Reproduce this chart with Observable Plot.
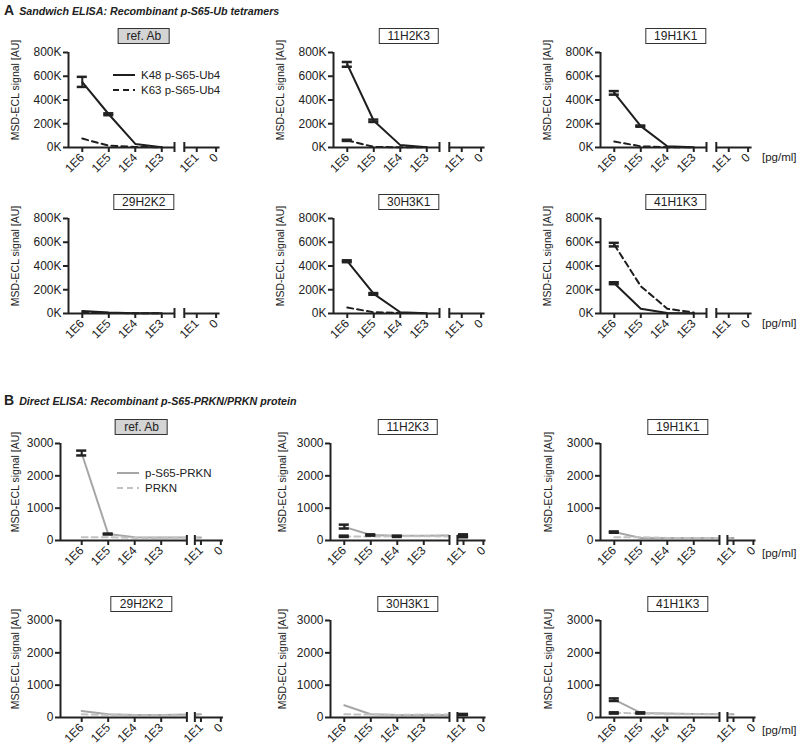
<!DOCTYPE html>
<html><head><meta charset="utf-8">
<script src="https://cdn.jsdelivr.net/npm/d3@7"></script>
<script src="https://cdn.jsdelivr.net/npm/@observablehq/plot@0.6"></script>
<style>
body{margin:0;background:#fff;font-family:"Liberation Sans",Arial,sans-serif;color:#222}
#root{position:relative;width:800px;height:755px;overflow:hidden;background:#fff}
.abs{position:absolute}
.sec{font-size:10.7px;font-weight:bold;font-style:italic;white-space:nowrap;line-height:14px}
.letter{font-size:14px;font-weight:bold;font-style:normal;margin-right:5px}
.box{border:1px solid #333;font-size:12px;padding:0 8px;line-height:14px;transform:translate(-50%,-50%);background:#fff;white-space:nowrap}
.box.ref{background:#d4d4d4}
.unit{font-size:11.5px;transform:translateY(-50%)}
.leg{font-size:11.5px;line-height:14px;white-space:nowrap;display:flex;align-items:center}
.leg svg{margin-right:5px}
svg{overflow:visible}
</style></head><body><div id="root"></div>
<script>
// ---------- data ----------
const concentrations = ["1E6","1E5","1E4","1E3","1E1","0"];
const antibodies = ["ref. Ab","11H2K3","19H1K1","29H2K2","30H3K1","41H1K3"];

// A: Sandwich ELISA (values at 1E6, 1E5, 1E4, 1E3)
const ubSeries = ["K48 p-S65-Ub4","K63 p-S65-Ub4"];
const k48 = [
  [550000,280000,30000,3000],
  [700000,225000,20000,2000],
  [460000,180000,10000,1000],
  [20000,8000,3000,2000],
  [440000,165000,10000,2000],
  [255000,40000,5000,2000]
];
const k63 = [
  [75000,15000,5000,2000],
  [60000,5000,2000,1000],
  [50000,10000,3000,1000],
  [10000,5000,2000,1000],
  [50000,10000,5000,2000],
  [580000,230000,40000,8000]
];
const ubErrors = [
  ["ref. Ab","K48 p-S65-Ub4","1E6",510000,595000],
  ["ref. Ab","K48 p-S65-Ub4","1E5",272000,288000],
  ["11H2K3","K48 p-S65-Ub4","1E6",680000,720000],
  ["11H2K3","K48 p-S65-Ub4","1E5",215000,235000],
  ["11H2K3","K63 p-S65-Ub4","1E6",55000,65000],
  ["19H1K1","K48 p-S65-Ub4","1E6",445000,475000],
  ["19H1K1","K48 p-S65-Ub4","1E5",175000,185000],
  ["30H3K1","K48 p-S65-Ub4","1E6",432000,448000],
  ["30H3K1","K48 p-S65-Ub4","1E5",158000,172000],
  ["41H1K3","K48 p-S65-Ub4","1E6",247000,263000],
  ["41H1K3","K63 p-S65-Ub4","1E6",565000,595000]
];
const ubTicks = [0,200000,400000,600000,800000];

// B: Direct ELISA (values at 1E6, 1E5, 1E4, 1E3, 1E1)
const prknSeries = ["p-S65-PRKN","PRKN"];
const pS65 = [
  [2700,200,100,90,90],
  [420,170,150,150,160],
  [260,80,80,80,80],
  [200,100,80,80,100],
  [380,100,80,80,80],
  [550,140,120,110,100]
];
const prkn = [
  [100,100,80,80,90],
  [120,120,130,130,120],
  [100,100,80,80,80],
  [100,80,70,70,60],
  [100,90,80,90,90],
  [140,130,100,100,100]
];
const prknErrors = [
  ["ref. Ab","p-S65-PRKN","1E6",2630,2780],
  ["ref. Ab","p-S65-PRKN","1E5",185,215],
  ["11H2K3","p-S65-PRKN","1E6",370,490],
  ["11H2K3","PRKN","1E6",110,150],
  ["11H2K3","p-S65-PRKN","1E5",150,190],
  ["11H2K3","PRKN","1E4",110,150],
  ["11H2K3","p-S65-PRKN","1E1",120,190],
  ["11H2K3","PRKN","1E1",100,140],
  ["19H1K1","p-S65-PRKN","1E6",240,280],
  ["30H3K1","p-S65-PRKN","1E1",70,110],
  ["41H1K3","p-S65-PRKN","1E6",510,590],
  ["41H1K3","PRKN","1E6",120,160],
  ["41H1K3","p-S65-PRKN","1E5",120,160]
];
const prknTicks = [0,1000,2000,3000];

// ---------- layout ----------
const root = document.getElementById("root");
const INK = "#222";
const layoutA = {pos:[0,1,2,3,4.32,5.05], breaks:[3.48,3.85], end:5.2};
const layoutB = {pos:[0,1,2,3,4.5,5.25], breaks:[3.97,4.27], end:5.35};
const colsA = [68,333,600], colsB = [60,330,600];
const labelXA = [15,280,547], labelXB = [15,282,548];
const startA = [-0.52,-0.52,-0.52], startB = [-0.8,-0.52,-0.52];
const rowsA = [52,218], rowsB = [443,620];
const MT = 30, MB = 48, ML = 65, MR = 10, UNIT = 26.5;

function add(html, cls, left, top){
  const d = document.createElement("div");
  d.className = "abs " + cls; d.innerHTML = html;
  d.style.left = left+"px"; d.style.top = top+"px";
  root.appendChild(d); return d;
}

function panel({ab, left, top, h, layout, x0, labelX, series, values, errors, yMax, yTicks, yFmt, styles, cover}){
  const pos = layout.pos;
  const domain = [x0, layout.end];
  const PW = (domain[1]-domain[0])*UNIT;
  const posOf = c => pos[concentrations.indexOf(c)];
  const pts = [];
  series.forEach((s,k) => values[k].forEach((v,j) => pts.push({s, x:pos[j], y:v})));
  const errs = errors.filter(e => e[0]===ab).map(e => ({x:posOf(e[2]), lo:e[3], hi:e[4]}));
  const bh = yMax*5/h; // break mark half height (5px)
  const cw = 0.19;
  const marks = [];
  series.forEach(s => {
    marks.push(Plot.line(pts.filter(p=>p.s===s), {x:"x", y:"y", stroke:styles[s].stroke,
      strokeWidth:2, strokeDasharray:styles[s].dash, strokeLinejoin:"round"}));
  });
  if (cover) marks.push(Plot.rect([layout.breaks], {x1:d=>d[0], x2:d=>d[1], y1:-bh*2, y2:yMax, fill:"white"}));
  marks.push(
    Plot.ruleX(errs, {x:"x", y1:"lo", y2:"hi", stroke:INK, strokeWidth:2}),
    Plot.ruleY(errs, {y:"lo", x1:d=>d.x-cw, x2:d=>d.x+cw, stroke:INK, strokeWidth:2.5}),
    Plot.ruleY(errs, {y:"hi", x1:d=>d.x-cw, x2:d=>d.x+cw, stroke:INK, strokeWidth:2.5}),
    Plot.ruleY([[domain[0],layout.breaks[0]],[layout.breaks[1],domain[1]]],
      {y:0, x1:d=>d[0], x2:d=>d[1], stroke:INK, strokeWidth:2}),
    Plot.ruleX(layout.breaks, {x:d=>d, y1:-bh, y2:bh, stroke:INK, strokeWidth:2}),
    Plot.ruleX([domain[0]], {x:d=>d, y1:0, y2:yMax, stroke:INK, strokeWidth:2}),
    Plot.axisY({ticks:yTicks, tickFormat:yFmt, tickSize:5, tickPadding:2, strokeWidth:2, stroke:INK, fill:INK, label:null, fontSize:12}),
    Plot.axisX({ticks:pos, tickFormat:d=>concentrations[pos.indexOf(d)], tickSize:5, tickPadding:3,
      tickRotate:-45, strokeWidth:2, stroke:INK, fill:INK, label:null, fontSize:12}),
    Plot.text(["MSD-ECL signal [AU]"], {frameAnchor:"left", textAnchor:"middle", rotate:-90,
      dx:-(left-labelX), dy:-10, fontSize:10.5, fill:INK})
  );
  const chart = Plot.plot({
    width: ML+PW+MR, height: MT+h+MB,
    marginLeft: ML, marginRight: MR, marginTop: MT, marginBottom: MB,
    x:{type:"linear", domain},
    y:{type:"linear", domain:[0,yMax]},
    style:{fontFamily:"'Liberation Sans', Arial, sans-serif", fontSize:"12px", color:INK, background:"transparent", overflow:"visible"},
    marks
  });
  chart.style.position = "absolute";
  chart.style.left = (left-ML)+"px";
  chart.style.top = (top-MT)+"px";
  root.appendChild(chart);
  return PW;
}

const stylesA = {"K48 p-S65-Ub4":{stroke:"#1e1e1e", dash:null}, "K63 p-S65-Ub4":{stroke:"#1e1e1e", dash:"6,4"}};
const stylesB = {"p-S65-PRKN":{stroke:"#a6a6a6", dash:null}, "PRKN":{stroke:"#c2c2c2", dash:"6,4"}};

const boxes = [];
antibodies.forEach((ab,i) => {
  const r = Math.floor(i/3), c = i%3;
  const wA = panel({ab, left:colsA[c], top:rowsA[r], h:95, layout:layoutA, x0:startA[c], labelX:labelXA[c],
    series:ubSeries, values:[k48[i],k63[i]], errors:ubErrors, yMax:800000, yTicks:ubTicks,
    yFmt:d=>(d/1000)+"K", styles:stylesA, cover:false});
  boxes.push([ab, colsA[c]+wA/2, rowsA[r]-16]);
  const wB = panel({ab, left:colsB[c], top:rowsB[r], h:97, layout:layoutB, x0:startB[c], labelX:labelXB[c],
    series:prknSeries, values:[pS65[i],prkn[i]], errors:prknErrors, yMax:3000, yTicks:prknTicks,
    yFmt:d=>String(d), styles:stylesB, cover:true});
  boxes.push([ab, colsB[c]+wB/2, rowsB[r]-16]);
});
boxes.forEach(([ab,x,y]) => add(ab, "box"+(ab==="ref. Ab"?" ref":""), x, y));

// section titles
add('<span class="letter">A</span>Sandwich ELISA: Recombinant p-S65-Ub tetramers', "sec", 4, 3);
add('<span class="letter">B</span>Direct ELISA: Recombinant p-S65-PRKN/PRKN protein', "sec", 4, 393);

// units
[157,323,553,730].forEach(y => add("[pg/ml]", "unit", 762, y));

// legends
function legend(items, styles, left, top){
  items.forEach((s,k) => {
    const st = styles[s];
    add(`<svg width="24" height="6"><line x1="1" x2="23" y1="3" y2="3" stroke="${st.stroke}" stroke-width="2" ${st.dash?`stroke-dasharray="${st.dash}"`:""}/></svg>${s}`,
      "leg", left, top + k*15);
  });
}
legend(ubSeries, stylesA, 112, 68);
legend(prknSeries, stylesB, 116, 466);
</script></body></html>
